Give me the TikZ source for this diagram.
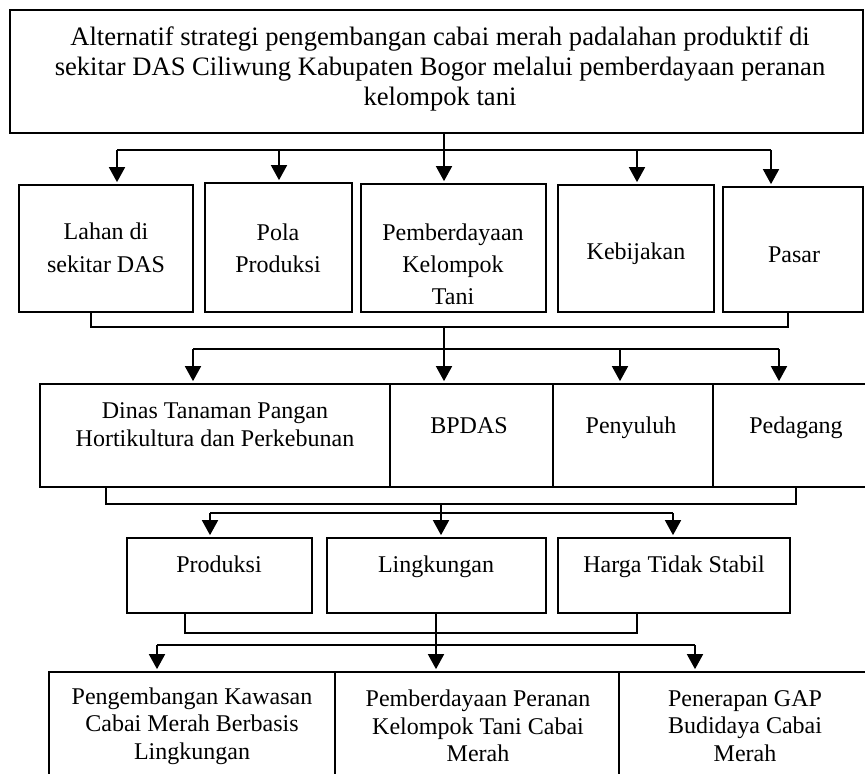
\documentclass[tikz,border=0pt]{standalone}
\usepackage{fontspec}
\setmainfont{Liberation Serif}
\usetikzlibrary{arrows.meta,fit}

\tikzset{
  box/.style={draw, rectangle, inner sep=0pt, line width=0.85pt},
  txt/.style={align=center, inner sep=0pt, font=\fontsize{12}{14}\selectfont},
  oneline/.style={txt, text height=8.5pt, text depth=2.5pt},
  arr/.style={-{Triangle[width=8pt,length=7.5pt]}, shorten >=1pt},
}

\begin{document}
\begin{tikzpicture}[x=0.5pt,y=-0.5pt,line width=0.85pt]
	\useasboundingbox (0,0) rectangle (865,774);
	% boxes
	\node [box, fit={(10,10) (863,133)}] (top) {};
	\node [box, fit={(19,185) (193,312)}] (lahan) {};
	\node [box, fit={(205,183) (352,312)}] (pola) {};
	\node [box, fit={(361,184) (546,312)}] (pember) {};
	\node [box, fit={(558,185) (714,312)}] (kebij) {};
	\node [box, fit={(723,187) (863,312)}] (pasar) {};
	\node [box, fit={(40,384) (390,487)}] (dinas) {};
	\node [box, fit={(390,384) (553,487)}] (bpdas) {};
	\node [box, fit={(553,384) (713,487)}] (penyuluh) {};
	\node [box, fit={(713,384) (866,487)}] (pedagang) {};
	\node [box, fit={(127,538) (312,613)}] (prod) {};
	\node [box, fit={(327,538) (546,613)}] (ling) {};
	\node [box, fit={(558,538) (790,613)}] (harga) {};
	\node [box, fit={(49,672) (335,800)}] (kawasan) {};
	\node [box, fit={(335,672) (619,800)}] (peranan) {};
	\node [box, fit={(619,672) (866,800)}] (gap) {};
	% texts
	\node [txt, font=\fontsize{13.3}{15.2}\selectfont] (top-t) at (440,69) {Alternatif strategi pengembangan cabai merah padalahan produktif di\\sekitar DAS Ciliwung Kabupaten Bogor melalui pemberdayaan peranan\\kelompok tani};
	\node [txt, font=\fontsize{12}{16.5}\selectfont] (lahan-t) at (106,248) {Lahan di\\sekitar DAS};
	\node [txt, font=\fontsize{12}{16}\selectfont] (pola-t) at (278,248) {Pola\\Produksi};
	\node [txt, font=\fontsize{12}{16}\selectfont] (pember-t) at (453,264) {Pemberdayaan\\Kelompok\\Tani};
	\node [oneline] (kebij-t) at (636,254) {Kebijakan};
	\node [oneline] (pasar-t) at (794,257) {Pasar};
	\node [txt] (dinas-t) at (215,425) {Dinas Tanaman Pangan\\Hortikultura dan Perkebunan};
	\node [oneline] (bpdas-t) at (469,427) {BPDAS};
	\node [oneline] (penyuluh-t) at (631,427) {Penyuluh};
	\node [oneline] (pedagang-t) at (796,427) {Pedagang};
	\node [oneline] (prod-t) at (219,566) {Produksi};
	\node [oneline] (ling-t) at (436,566) {Lingkungan};
	\node [oneline] (harga-t) at (674,566) {Harga Tidak Stabil};
	\node [txt, font=\fontsize{12}{13.75}\selectfont] (kawasan-t) at (192,726) {Pengembangan Kawasan\\Cabai Merah Berbasis\\Lingkungan};
	\node [txt, font=\fontsize{12}{13.75}\selectfont] (peranan-t) at (478,726) {Pemberdayaan Peranan\\Kelompok Tani Cabai\\Merah};
	\node [txt, font=\fontsize{12}{13.75}\selectfont] (gap-t) at (745,726) {Penerapan GAP\\Budidaya Cabai\\Merah};
	% junctions
	\coordinate (h1l) at (117,150);
	\coordinate (h1r) at (771,150);
	\coordinate (b1l) at (91,327);
	\coordinate (b1r) at (788,327);
	\coordinate (h2l) at (193,349);
	\coordinate (h2r) at (779,349);
	\coordinate (b2l) at (106,504);
	\coordinate (b2r) at (796,504);
	\coordinate (h3l) at (210,513);
	\coordinate (h3r) at (673,513);
	\coordinate (b3l) at (185,633);
	\coordinate (b3r) at (637,633);
	\coordinate (h4l) at (157,645);
	\coordinate (h4r) at (695,645);
	% level 1
	\draw (h1l) -- (h1r);
	\draw [arr] (top.south -| 444,0) -- (pember.north -| 444,0);
	\foreach \x/\to in {117/lahan, 279/pola, 637/kebij, 771/pasar}
	\draw [arr] (\x,150) -- (\to.north -| \x,0);
	% level 2
	\draw (lahan.south -| b1l) -- (b1l) -- (b1r) -- (pasar.south -| b1r);
	\draw (h2l) -- (h2r);
	\draw [arr] (b1l -| 444,0) -- (bpdas.north -| 444,0);
	\foreach \x/\to in {193/dinas, 620/penyuluh, 779/pedagang}
	\draw [arr] (\x,349) -- (\to.north -| \x,0);
	% level 3
	\draw (dinas.south -| b2l) -- (b2l) -- (b2r) -- (pedagang.south -| b2r);
	\draw (h3l) -- (h3r);
	\draw [arr] (b2l -| 441,0) -- (ling.north -| 441,0);
	\foreach \x/\to in {210/prod, 673/harga}
	\draw [arr] (\x,513) -- (\to.north -| \x,0);
	% level 4
	\draw (prod.south -| b3l) -- (b3l) -- (b3r) -- (harga.south -| b3r);
	\draw (h4l) -- (h4r);
	\draw [arr] (ling.south -| 436,0) -- (peranan.north -| 436,0);
	\foreach \x/\to in {157/kawasan, 695/gap}
	\draw [arr] (\x,645) -- (\to.north -| \x,0);
\end{tikzpicture}
\end{document}
